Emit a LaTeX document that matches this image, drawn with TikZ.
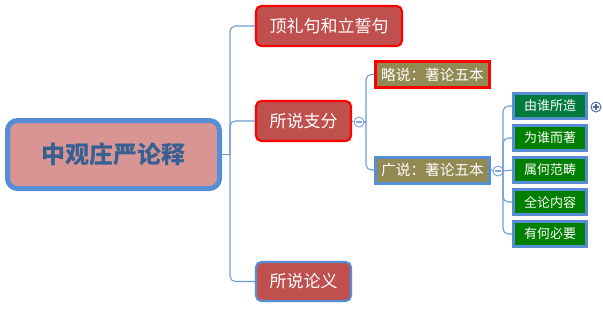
\documentclass[tikz,border=0pt]{standalone}
\usepackage{fontspec}
\newfontfamily\cjk{Noto Sans CJK SC}
\usetikzlibrary{positioning}
\definecolor{rootfill}{HTML}{D99594}
\definecolor{rootline}{HTML}{558ED5}
\definecolor{roottext}{HTML}{376092}
\definecolor{redfill}{HTML}{C0504D}
\definecolor{olive}{HTML}{938953}
\definecolor{greenA}{HTML}{007A3F}
\definecolor{greenB}{HTML}{007F00}
\definecolor{conncol}{HTML}{6F9BD6}
\definecolor{knob}{HTML}{7FA3DA}
\definecolor{knobdark}{HTML}{4E67A0}
\tikzset{
  rootbox/.style={draw=rootline, line width=3.75pt, fill=rootfill, rounded corners=7.5pt,
    minimum width=159pt, minimum height=51pt, inner sep=0pt,
    font=\cjk\bfseries\fontsize{18pt}{18pt}\selectfont, text=roottext},
  firstbox/.style={line width=1.6pt, fill=redfill, rounded corners=4pt,
    minimum height=30pt, inner sep=0pt,
    font=\cjk\fontsize{12.75pt}{12.75pt}\selectfont, text=white},
  secbox/.style={line width=2.25pt, fill=olive, minimum width=85.5pt, minimum height=19.5pt,
    inner sep=0pt, font=\cjk\fontsize{11pt}{11pt}\selectfont, text=white},
  leafbox/.style={draw=rootline, line width=2.25pt, minimum width=55pt, minimum height=19pt,
    inner sep=0pt, font=\cjk\fontsize{9.75pt}{9.75pt}\selectfont, text=white},
  conn/.style={draw=conncol, line width=0.8pt, rounded corners=4pt},
  knobc/.style={circle, draw=knob, fill=white, line width=0.7pt, minimum size=7.5pt, inner sep=0pt},
}
\begin{document}
\begin{tikzpicture}[x=0.75pt, y=-0.75pt]
\useasboundingbox (0,0) rectangle (603,308);
% nodes
\node[rootbox] (root) at (113.5,154.5) {中观庄严论释};
\node[firstbox, draw=red, minimum width=109.5pt] (n1) at (329,26) {顶礼句和立誓句};
\node[firstbox, draw=red, minimum width=71.25pt] (n2) at (303.5,121) {所说支分};
\node[firstbox, draw=rootline, minimum width=71.25pt, minimum height=29.25pt] (n3) at (303.5,281.5) {所说论义};
\node[secbox, draw=red] (s1) at (432.5,74.5) {略说：著论五本};
\node[secbox, draw=rootline] (s2) at (432.5,170) {广说：著论五本};
\node[leafbox, fill=greenA] (g1) at (550,106) {由谁所造};
\node[leafbox, fill=greenB] (g2) at (550,138) {为谁而著};
\node[leafbox, fill=greenB] (g3) at (550,170) {属何范畴};
\node[leafbox, fill=greenB] (g4) at (550,202) {全论内容};
\node[leafbox, fill=greenB] (g5) at (550,234) {有何必要};
% knobs
\node[knobc] (k1) at (359,122) {};
\node[knobc] (k2) at (498,171) {};
\node[knobc, draw=knobdark] (k3) at (596,107) {};
\draw[knob, line width=0.8pt] ([xshift=-2.2pt]k1.center) -- ([xshift=2.2pt]k1.center);
\draw[knob, line width=0.8pt] ([xshift=-2.2pt]k2.center) -- ([xshift=2.2pt]k2.center);
\draw[knobdark, line width=0.8pt] ([xshift=-2.2pt]k3.center) -- ([xshift=2.2pt]k3.center)
  ([yshift=-2.2pt]k3.center) -- ([yshift=2.2pt]k3.center);
% junctions
\coordinate (j0) at (230,154.5);
\coordinate (j1) at (366,122);
\coordinate (j2) at (503,171);
% connectors
\draw[conn] (root.east) -- (j0);
\draw[conn] (j0) |- (n1.west);
\draw[conn] (j0) |- (n2.west);
\draw[conn] (j0) |- (n3.west);
\draw[conn] (n2.east) -- (k1.west);
\draw[conn] (k1.east) -- (j1);
\draw[conn] (j1) |- (s1.west);
\draw[conn] (j1) |- (s2.west);
\draw[conn] (s2.east) -- (k2.west);
\draw[conn] (k2.east) -- (j2);
\draw[conn] (j2) |- (g1.west);
\draw[conn] (j2) |- (g2.west);
\draw[conn] (j2) -- (g3.west);
\draw[conn] (j2) |- (g4.west);
\draw[conn] (j2) |- (g5.west);
\end{tikzpicture}
\end{document}
